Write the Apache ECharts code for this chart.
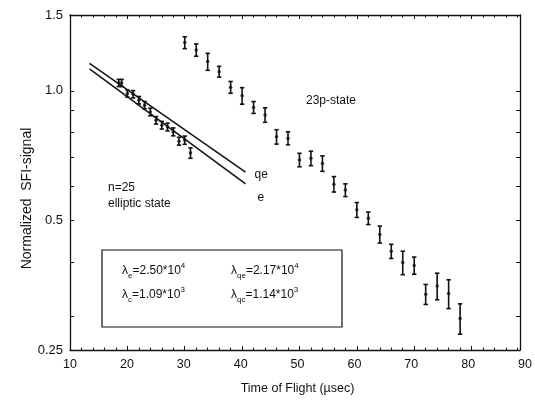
<!DOCTYPE html>
<html><head><meta charset="utf-8">
<script src="https://cdn.jsdelivr.net/npm/echarts@6/dist/echarts.min.js"></script>
<style>html,body{margin:0;background:#fff}#c{width:535px;height:400px}</style>
</head><body><div id="c"></div>
<script>
// ---- data ----
const ellipticX   = [18.5, 19, 20, 21, 22, 23, 24, 25, 26, 27, 28, 29, 30, 31];
const ellipticY   = [1.043, 1.043, 0.986, 0.982, 0.951, 0.926, 0.893, 0.854, 0.832, 0.824, 0.803, 0.764, 0.768, 0.717];
const ellipticErr = [0.020, 0.020, 0.019, 0.019, 0.019, 0.018, 0.018, 0.017, 0.017, 0.017, 0.017, 0.016, 0.017, 0.020];

const p23X   = [30, 32, 34, 36, 38, 40, 42, 44, 46, 48, 50, 52, 54, 56, 58, 60, 62, 64, 66, 68, 70, 72, 74, 76, 78];
const p23Y   = [1.294, 1.244, 1.169, 1.108, 1.019, 0.974, 0.915, 0.879, 0.782, 0.776, 0.691, 0.697, 0.678, 0.607, 0.588, 0.529, 0.506, 0.464, 0.424, 0.399, 0.393, 0.337, 0.352, 0.338, 0.296];
const p23Err = [0.041, 0.041, 0.053, 0.032, 0.032, 0.043, 0.029, 0.034, 0.030, 0.027, 0.025, 0.027, 0.028, 0.025, 0.020, 0.021, 0.017, 0.021, 0.016, 0.025, 0.018, 0.018, 0.025, 0.026, 0.024];

const fitQE = [[13.4, 1.158], [40.6, 0.647]];
const fitE  = [[13.4, 1.124], [40.6, 0.608]];

const yTickValues = [0.25, 0.3, 0.4, 0.5, 0.6, 0.7, 0.8, 0.9, 1.0, 1.5];
const xMin = 10, xFrameMax = 88.44, xLabelMax = 90;

// ---- chart ----
const FONT = '"Liberation Sans", Arial, Helvetica, sans-serif';
const chart = echarts.init(document.getElementById('c'), null, {renderer: 'canvas'});

function errRender(params, api) {
  const x = api.value(0), y = api.value(1), e = api.value(2);
  const t = api.coord([x, y + e]), b = api.coord([x, y - e]);
  const w = 2.2;
  const st = {stroke: '#111', lineWidth: 1.6};
  return {type: 'group', children: [
    {type: 'line', shape: {x1: t[0], y1: t[1], x2: b[0], y2: b[1]}, style: st},
    {type: 'line', shape: {x1: t[0] - w, y1: t[1], x2: t[0] + w, y2: t[1]}, style: st},
    {type: 'line', shape: {x1: b[0] - w, y1: b[1], x2: b[0] + w, y2: b[1]}, style: st}
  ]};
}

const axisLineStyle = {color: '#111', width: 1.3};
const tickCommon = {show: true, inside: true, length: 4, lineStyle: {color: '#111', width: 1}};
const minorCommon = {show: true, splitNumber: 5, length: 2.5, lineStyle: {color: '#111', width: 1}};

const option = {
  animation: false,
  backgroundColor: '#fff',
  textStyle: {fontFamily: FONT},
  grid: [
    {left: 70, top: 15, width: 450, height: 335, show: false},
    {left: 70, top: 15, width: 458.96, height: 335, show: false}
  ],
  xAxis: [
    {gridIndex: 0, type: 'value', min: xMin, max: xFrameMax, interval: 10, position: 'bottom',
     axisLine: {show: true, lineStyle: axisLineStyle}, axisTick: tickCommon, minorTick: minorCommon,
     axisLabel: {show: false}, splitLine: {show: false}},
    {gridIndex: 0, type: 'value', min: xMin, max: xFrameMax, interval: 10, position: 'top',
     axisLine: {show: true, lineStyle: axisLineStyle}, axisTick: tickCommon, minorTick: minorCommon,
     axisLabel: {show: false}, splitLine: {show: false}},
    {gridIndex: 1, type: 'value', min: xMin, max: xLabelMax, interval: 10, position: 'bottom',
     axisLine: {show: false}, axisTick: {show: false}, splitLine: {show: false},
     axisLabel: {show: true, color: '#111', fontSize: 12.5, margin: 8, fontFamily: FONT},
     name: 'Time of Flight (\u00b5sec)', nameLocation: 'middle', nameGap: 32, nameMoveOverlap: false,
     nameTextStyle: {color: '#111', fontSize: 12.5, fontFamily: FONT}}
  ],
  yAxis: [
    {gridIndex: 0, type: 'log', logBase: 2, min: 0.25, max: 1.5, position: 'left',
     axisLine: {show: true, lineStyle: axisLineStyle},
     axisTick: Object.assign({}, tickCommon, {customValues: yTickValues}),
     splitLine: {show: false},
     axisLabel: {show: true, color: '#111', fontSize: 13, margin: 7, fontFamily: FONT,
       formatter: v => (Math.abs(v - 1) < 1e-9 ? '1.0' : String(+v.toFixed(2)))},
     name: 'Normalized  SFI-signal', nameLocation: 'middle', nameGap: 36, nameMoveOverlap: false,
     nameTextStyle: {color: '#111', fontSize: 14, fontFamily: FONT, padding: [0, 32, 0, 0]}},
    {gridIndex: 0, type: 'log', logBase: 2, min: 0.25, max: 1.5, position: 'right',
     axisLine: {show: true, lineStyle: axisLineStyle},
     axisTick: Object.assign({}, tickCommon, {customValues: yTickValues}),
     splitLine: {show: false}, axisLabel: {show: false}},
    {gridIndex: 1, type: 'value', min: 0, max: 1, show: false}
  ],
  series: [
    {type: 'line', xAxisIndex: 0, yAxisIndex: 0, data: fitQE, symbol: 'none',
     lineStyle: {color: '#111', width: 1.5}, silent: true,
     endLabel: {show: true, formatter: 'qe', color: '#111', fontSize: 12, fontFamily: FONT, distance: 9, offset: [0, 2]}},
    {type: 'line', xAxisIndex: 0, yAxisIndex: 0, data: fitE, symbol: 'none',
     lineStyle: {color: '#111', width: 1.5}, silent: true,
     endLabel: {show: true, formatter: 'e', color: '#111', fontSize: 12, fontFamily: FONT, distance: 12, offset: [0, 14]}},
    {type: 'custom', xAxisIndex: 0, yAxisIndex: 0, renderItem: errRender,
     data: ellipticX.map((x, i) => [x, ellipticY[i], ellipticErr[i]]), encode: {x: 0, y: 1}},
    {type: 'custom', xAxisIndex: 0, yAxisIndex: 0, renderItem: errRender,
     data: p23X.map((x, i) => [x, p23Y[i], p23Err[i]]), encode: {x: 0, y: 1}},
    {type: 'scatter', xAxisIndex: 0, yAxisIndex: 0, symbol: 'circle', symbolSize: 3.5,
     itemStyle: {color: '#111'}, data: ellipticX.map((x, i) => [x, ellipticY[i]])},
    {type: 'scatter', xAxisIndex: 0, yAxisIndex: 0, symbol: 'circle', symbolSize: 3.5,
     itemStyle: {color: '#111'}, data: p23X.map((x, i) => [x, p23Y[i]])}
  ],
  graphic: [
    {type: 'text', left: 306, top: 95, style: {text: '23p-state', fill: '#111', font: '12px ' + FONT}},
    {type: 'text', left: 108, top: 182, style: {text: 'n=25', fill: '#111', font: '12px ' + FONT}},
    {type: 'text', left: 108, top: 198, style: {text: 'elliptic state', fill: '#111', font: '12px ' + FONT}},
    {type: 'rect', shape: {x: 102, y: 250, width: 240, height: 77}, style: {fill: 'none', stroke: '#111', lineWidth: 1.2}},
  ]
};

const rich = {
  n:   {fontSize: 12, lineHeight: 18, verticalAlign: 'middle', fontFamily: FONT, fill: '#111', color: '#111'},
  sub: {fontSize: 8, lineHeight: 8, verticalAlign: 'bottom', fontFamily: FONT, fill: '#111', color: '#111'},
  sup: {fontSize: 8, lineHeight: 8, verticalAlign: 'top', fontFamily: FONT, fill: '#111', color: '#111'}
};
const boxTexts = [
  {x: 122, y: 262, t: '{n|\u03bb}{sub|e}{n|=2.50*10}{sup|4}'},
  {x: 231, y: 262, t: '{n|\u03bb}{sub|qe}{n|=2.17*10}{sup|4}'},
  {x: 122, y: 286, t: '{n|\u03bb}{sub|c}{n|=1.09*10}{sup|3}'},
  {x: 231, y: 286, t: '{n|\u03bb}{sub|qc}{n|=1.14*10}{sup|3}'}
];
boxTexts.forEach(b => option.graphic.push({type: 'text', left: b.x, top: b.y,
  style: {text: b.t, rich: rich, fill: '#111'}}));

chart.setOption(option);
</script>
</body></html>
